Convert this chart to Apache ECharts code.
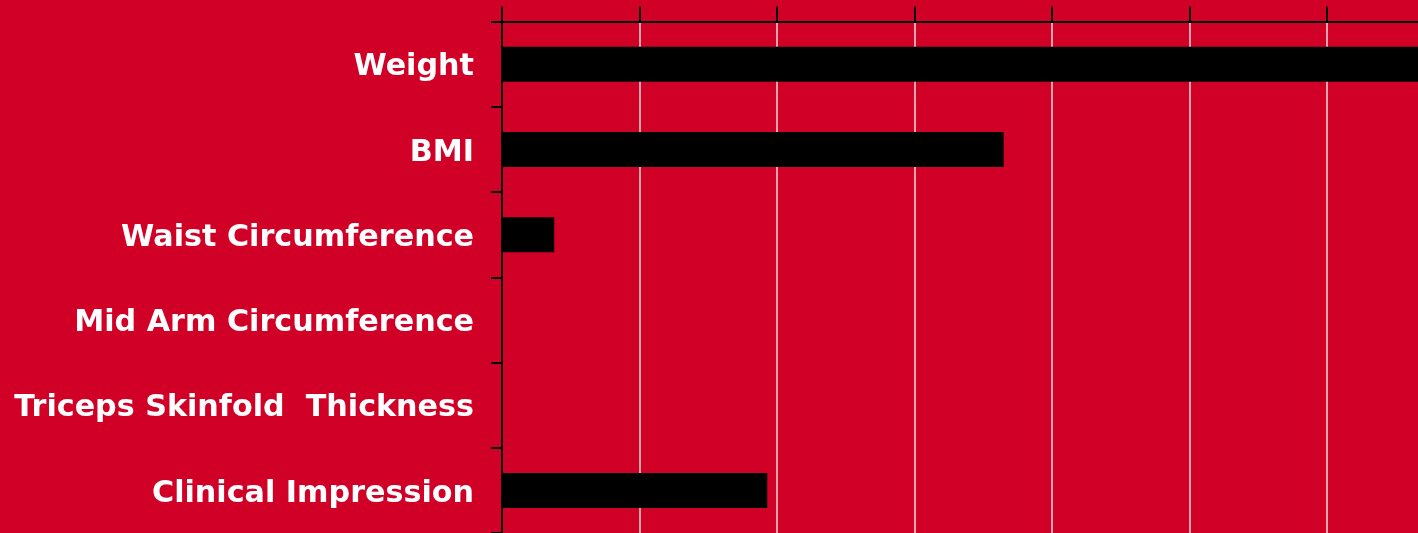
<!DOCTYPE html>
<html>
<head>
<meta charset="utf-8">
<script src="https://cdn.jsdelivr.net/npm/echarts@6/dist/echarts.min.js"></script>
<style>
html,body{margin:0;padding:0;background:#D00027;overflow:hidden;width:1418px;height:533px;}
#chart{width:1602px;height:533px;}
</style>
</head>
<body>
<div id="chart"></div>
<script>
var categories = ["Weight", "BMI", "Waist Circumference", "Mid Arm Circumference", "Triceps Skinfold  Thickness", "Clinical Impression"];
var values = [72, 36.5, 3.8, 0, 0, 19.3];
var axisMin = 0, axisMax = 80, axisInterval = 10;

var chart = echarts.init(document.getElementById('chart'), null, {renderer: 'canvas'});
chart.setOption({
  backgroundColor: '#D00027',
  animation: false,
  grid: {left: 502, top: 21.5, width: 1099.6, bottom: -3, containLabel: false},
  xAxis: {
    type: 'value', position: 'top', min: axisMin, max: axisMax, interval: axisInterval,
    axisLine: {show: true, lineStyle: {color: '#000', width: 2}},
    axisTick: {show: true, inside: false, length: 15, lineStyle: {color: '#000', width: 2}},
    axisLabel: {show: false},
    splitLine: {show: true, lineStyle: {color: '#EBA4AD', width: 2}}
  },
  yAxis: {
    type: 'category', inverse: true, data: categories,
    axisLine: {show: true, lineStyle: {color: '#000', width: 2}},
    axisTick: {show: true, alignWithLabel: false, length: 11, lineStyle: {color: '#000', width: 2}},
    axisLabel: {
      show: true, margin: 28,
      formatter: function (v) { return '{l|' + v + '}'; },
      rich: {l: {color: '#fff', fontFamily: 'DejaVu Sans', fontWeight: 'bold', fontSize: 30.2, padding: [7, 0, 0, 0]}}
    },
    splitLine: {show: false}
  },
  series: [{
    type: 'bar', data: values, barWidth: 35,
    itemStyle: {color: '#000'}
  }]
});
</script>
</body>
</html>
